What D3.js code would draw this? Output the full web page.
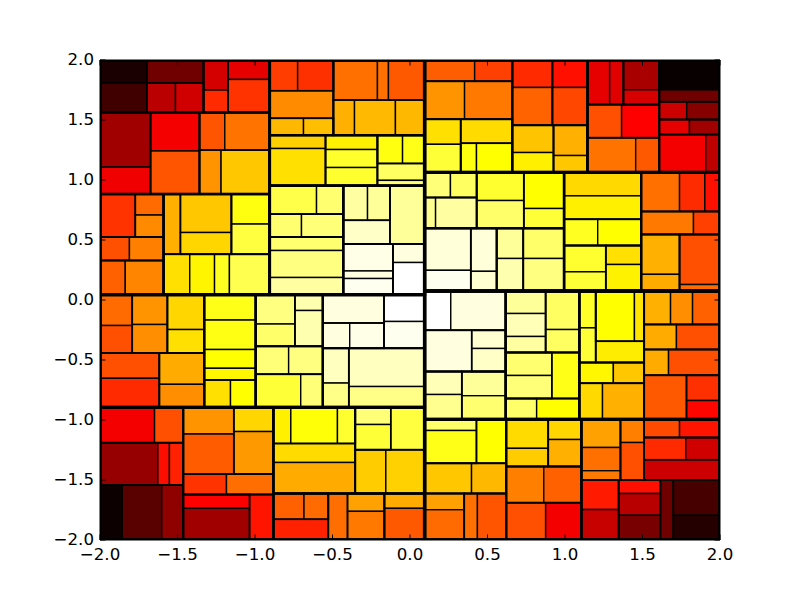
<!DOCTYPE html>
<html><head><meta charset="utf-8">
<style>html,body{margin:0;padding:0;background:#fff}svg{display:block}</style>
<script src="https://cdn.jsdelivr.net/npm/d3@7/dist/d3.min.js"></script>
</head><body><div id="chart"></div>
<script>
// Each node: [axis, cut positions (data units), child, child, ...]; a bare number is a leaf's heat (0..3).
const blockUpperLeftA = ["y",[0.883],
  ["y",[1.563],
    ["x",[-1.698,-1.332],
      ["y",[1.808],0.10,0.25],
      ["y",[1.808],0.44,["x",[-1.513],0.73,0.82]],
      ["x",[-1.174],["y",[1.75],0.83,1.165],["y",[1.838],0.90,1.20]]],
    ["x",[-1.674,-1.358],
      ["y",[1.108],0.63,0.94],
      ["y",[1.242],0.96,1.33],
      ["y",[1.25],["x",[-1.195],1.33,1.45],["x",[-1.219],1.58,1.78]]]],
  ["x",[-1.59],
    ["y",[0.525],
      ["x",[-1.772],1.20,["y",[0.708],1.42,1.54]],
      ["y",[0.329],["x",[-1.81],1.31,1.50],["x",[-1.837],1.38,1.52]]],
    ["y",[0.381],
      ["x",[-1.481,-1.152],1.69,["y",[0.5625],1.78,1.84],["y",[0.633],2.06,2.25]],
      ["x",[-1.421,-1.261,-1.165],1.88,1.96,2.13,2.31]]]];

const blockUpperLeftB = ["y",[0.9525],
  ["y",[1.3725],
    ["x",[-0.494],
      ["y",[1.744,1.514],["x",[-0.725],1.24,1.19],1.55,["x",[-0.687],1.72,1.75]],
      ["y",[1.667],["x",[-0.21,-0.139],1.44,1.44,1.35],["x",[-0.358,-0.094],1.69,1.73,1.72]]],
    ["x",[-0.545,-0.21],
      ["y",[1.2625],1.82,1.88],
      ["y",[1.254,1.104],1.94,2.17,2.19],
      ["y",[1.1375,0.997],["x",[-0.048],2.06,2.09],2.38,2.44]]],
  ["x",[-0.43],
    ["y",[0.525],
      ["y",[0.715],["x",[-0.603],2.29,2.44],["x",[-0.7],2.44,2.47]],
      ["y",[0.4125,0.1875],2.44,2.50,2.63]],
    ["y",[0.467],
      ["x",[-0.129],["y",[0.664],["x",[-0.274],2.63,2.60],2.78],2.60],
      ["x",[-0.11],["y",[0.242,0.179],2.91,2.88,2.94],["y",[0.3125],2.88,3.0]]]]];

const blockLowerLeftA = ["x",[-0.995],
  ["x",[-1.327],
    ["y",[-0.442],
      ["x",[-1.792,-1.565],["y",[-0.2125],1.42,1.31],["y",[-0.204],1.58,1.56],["y",[-0.246],1.84,1.88]],
      ["x",[-1.617],["y",[-0.6525],1.31,1.165],["y",[-0.7025],1.67,1.56]]],
    ["y",[-0.167,-0.4125,-0.569,-0.667],2.09,2.08,2.0,1.97,["x",[-1.158],1.88,2.0]]],
  ["x",[-0.563],
    ["y",[-0.386],
      ["x",[-0.743],["y",[-0.2],2.50,2.41],["y",[-0.0875],2.69,2.69]],
      ["y",[-0.619],["x",[-0.783],2.47,2.50],["x",[-0.705],2.22,2.47]]],
    ["y",[-0.4025],
      ["x",[-0.168],["y",[-0.192],2.88,["x",[-0.389],2.88,2.91]],["y",[-0.179],3.0,2.94]],
      ["x",[-0.395],["y",[-0.692],2.75,2.53],["y",[-0.721],2.75,2.53]]]]];

const blockLowerLeftB = ["x",[-0.882],
  ["x",[-1.463],
    ["y",[-1.189,-1.542],
      ["x",[-1.648],0.96,1.31],
      ["x",[-1.627,-1.552],0.59,1.05,1.13],
      ["x",[-1.857,-1.602],0.05,0.35,0.56]],
    ["y",[-1.45,-1.621],
      ["x",[-1.137],["y",[-1.117],1.58,1.36],["y",[-1.096],1.84,1.60]],
      ["x",[-1.184],1.20,1.43],
      ["x",[-1.035],["y",[-1.736],1.0,0.63],1.08]]],
  ["y",[-1.6125],
    ["x",[-0.353],
      ["y",[-1.196,-1.354],["x",[-0.769,-0.468],1.94,2.03,2.19],1.86,1.67],
      ["y",[-1.2475],["x",[-0.124],["y",[-1.0375],2.47,2.22],2.25],["x",[-0.156],1.80,1.82]]],
    ["x",[-0.527,-0.165],
      ["y",[-1.8275],["x",[-0.684],1.38,1.42],1.13],
      ["x",[-0.403],1.43,["y",[-1.761],1.63,1.47]],
      ["y",[-1.736],1.67,1.35]]]];

const blockUpperRight = ["y",[1.064],
  ["x",[1.144],
    ["x",[0.66],
      ["y",[1.8225,1.506],
        ["x",[0.417],1.37,1.25],
        ["x",[0.352],1.58,1.47],
        ["x",[0.327],["y",[1.2975],1.88,2.22],["y",[1.306],1.86,["x",[0.429],2.06,2.0]]]],
      ["y",[1.456],
        ["x",[0.919],["y",[1.771],1.165,1.39],["y",[1.771],1.06,1.28]],
        ["x",[0.926],["y",[1.229],1.77,1.94],["y",[1.204],1.69,1.78]]]],
    ["x",[1.608],
      ["y",[1.629,1.3525],
        ["x",[1.377],["x",[1.288],0.90,0.88],["y",[1.752],0.66,0.84]],
        ["x",[1.365],1.31,1.0],
        ["x",[1.456],1.45,1.35]],
      ["y",[1.6525,1.504,1.379],
        ["y",[1.751],0.03,0.44],
        ["x",[1.785],0.80,0.53],
        ["x",[1.803],0.90,0.63],
        ["x",[1.908],0.96,0.75]]]],
  ["x",[0.994],
    ["y",[0.5975],
      ["x",[0.43,0.734],
        ["y",[0.854],["x",[0.261],2.47,2.38],["x",[0.165],2.56,2.63]],
        ["y",[0.829],2.19,2.41],
        ["y",[0.7625],2.0,2.22]],
      ["x",[0.559],
        ["x",[0.392],["y",[0.2475],2.85,2.94],["y",[0.239],2.85,2.82]],
        ["x",[0.731],["y",[0.346],2.60,2.69],["y",[0.346],2.41,2.50]]]],
    ["x",[1.492],
      ["y",[0.6725,0.454],
        ["y",[0.868],1.85,1.94],
        ["x",[1.211],2.13,2.0],
        ["x",[1.263],["y",[0.235],2.19,2.22],["y",[0.296],1.88,1.95]]],
      ["y",[0.7375,0.546],
        ["x",[1.739,1.902],1.44,1.17,1.06],
        ["x",[1.829],1.47,1.25],
        ["x",[1.739],["y",[0.214],1.69,1.67],["y",[0.129],1.31,1.42]]]]]];

const blockLowerRight = ["y",[-0.994],
  ["x",[1.092],
    ["x",[0.617],
      ["y",[-0.596],
        ["y",[-0.2525],["x",[0.263],3.0,2.88],["x",[0.398],2.88,["y",[-0.404],2.82,2.78]]],
        ["x",[0.334],["y",[-0.7875],2.72,2.56],["y",[-0.7975],2.60,2.44]]],
      ["y",[-0.4375,-0.821],
        ["x",[0.875],["y",[-0.1125,-0.304],2.60,2.72,2.63],["y",[-0.246],2.38,2.38]],
        ["x",[0.915],["y",[-0.629],2.44,2.47],2.09],
        ["x",[0.817],2.41,2.0]]],
    ["x",[1.51],
      ["y",[-0.521,-0.694],
        ["x",[1.198],["y",[-0.232],2.16,2.22],["y",[-0.344],["x",[1.448],2.0,1.90],1.93]],
        ["x",[1.312],1.97,1.78],
        ["x",[1.242],1.85,1.69]],
      ["y",[-0.204,-0.4125,-0.6275],
        ["x",[1.681,1.823],1.69,1.56,1.38],
        ["x",[1.719],1.67,1.31],
        ["x",[1.668],1.67,1.31],
        ["x",[1.784],1.35,["y",[-0.8375],1.19,1.02]]]]],
  ["x",[1.105],
    ["x",[0.621],
      ["y",[-1.361,-1.6125],
        ["x",[0.429],["y",[-1.0875],2.41,2.09],2.0],
        ["x",[0.397],1.78,1.72],
        ["x",[0.35],["y",[-1.7475],1.63,1.42],["x",[0.435],1.44,1.33]]],
      ["y",[-1.3875,-1.689],
        ["x",[0.892],["y",[-1.236],1.86,1.80],["y",[-1.1625],1.84,1.69]],
        ["x",[0.863],1.50,1.38],
        ["x",[0.875],1.31,0.96]]],
    ["y",[-1.5],
      ["x",[1.51],
        ["x",[1.358],["y",[-1.229,-1.4225],1.63,1.44,1.47],["y",[-1.1875],1.50,1.31]],
        ["y",[-1.146,-1.331],["x",[1.739],1.29,1.08],["x",[1.779],1.165,0.82],0.80]],
      ["x",[1.346,1.616,1.699],
        ["y",[-1.746],1.10,0.78],
        ["y",[-1.6125,-1.794],1.06,0.72,0.47],
        0.44,
        ["y",[-1.794],0.28,0.14]]]]];

const treeRoot = ["x",[0.094],
  ["y",[0.045],
    ["x",[-0.906],blockUpperLeftA,blockUpperLeftB],
    ["y",[-0.894],blockLowerLeftA,blockLowerLeftB]],
  ["y",[0.075],blockUpperRight,blockLowerRight]];

const extent = [-2,2];
const tickValues = [-2,-1.5,-1,-0.5,0,0.5,1,1.5,2];

const W=800,H=600;
const x=d3.scaleLinear().domain(extent).range([100,720]);
const y=d3.scaleLinear().domain(extent).range([540,60]);
const heatColor=d3.scaleLinear().domain([0,1,2,3]).range(["#000000","#ff0000","#ffff00","#ffffff"]);

const leaves=[],nodes=[];
(function walk(n,b,depth){
  if(typeof n==="number"){leaves.push({...b,heat:n});return;}
  nodes.push({...b,depth});
  const [axis,cuts,...kids]=n;
  const edges=axis==="x"?[b.x0,...cuts,b.x1]:[b.y1,...cuts,b.y0];
  kids.forEach((k,i)=>{
    const c=axis==="x"?{x0:edges[i],x1:edges[i+1],y0:b.y0,y1:b.y1}:{x0:b.x0,x1:b.x1,y1:edges[i],y0:edges[i+1]};
    walk(k,c,depth+1);
  });
})(treeRoot,{x0:-2,x1:2,y0:-2,y1:2},0);
nodes.sort((a,b)=>b.depth-a.depth);

const edgeWidth=d=>d<=2?3.2:d===3?3:d===4?2.4:d===5?2:1.6;

const svg=d3.select("#chart").append("svg").attr("width",W).attr("height",H);
svg.append("defs").append("clipPath").attr("id","plot").append("rect")
  .attr("x",100).attr("y",60).attr("width",620).attr("height",480);
const plot=svg.append("g").attr("clip-path","url(#plot)");
const place=s=>s.attr("x",d=>x(d.x0)).attr("y",d=>y(d.y1))
  .attr("width",d=>x(d.x1)-x(d.x0)).attr("height",d=>y(d.y0)-y(d.y1));
plot.selectAll("rect.cell").data(leaves).join("rect").attr("class","cell").call(place)
  .attr("fill",d=>heatColor(d.heat)).attr("stroke","#000").attr("stroke-width",1.4);
plot.selectAll("rect.group").data(nodes).join("rect").attr("class","group").call(place)
  .attr("fill","none").attr("stroke","#000").attr("stroke-width",d=>edgeWidth(d.depth));

const fmt=d3.format(".1f");
function style(g){
  g.attr("font-family","'DejaVu Sans'").attr("font-size",16.67);
  g.selectAll("path.domain").attr("stroke","#000").attr("stroke-width",1);
  g.selectAll(".tick line").attr("stroke","#000").attr("stroke-width",1);
  g.selectAll("text").attr("fill","#000");
}
svg.append("g").attr("transform","translate(0,540)")
  .call(d3.axisBottom(x).tickValues(tickValues).tickFormat(fmt).tickSizeInner(-5.5).tickSizeOuter(0).tickPadding(8).offset(0)).call(style);
svg.append("g").attr("transform","translate(100,0)")
  .call(d3.axisLeft(y).tickValues(tickValues).tickFormat(fmt).tickSizeInner(-5.5).tickSizeOuter(0).tickPadding(6).offset(0)).call(style);
svg.selectAll("g").filter(function(){return this.parentNode===svg.node();});
svg.append("g").attr("transform","translate(0,60)")
  .call(d3.axisTop(x).tickValues(tickValues).tickFormat("").tickSizeInner(-5.5).tickSizeOuter(0).offset(0)).call(style);
svg.append("g").attr("transform","translate(720,0)")
  .call(d3.axisRight(y).tickValues(tickValues).tickFormat("").tickSizeInner(-5.5).tickSizeOuter(0).offset(0)).call(style);
</script></body></html>
